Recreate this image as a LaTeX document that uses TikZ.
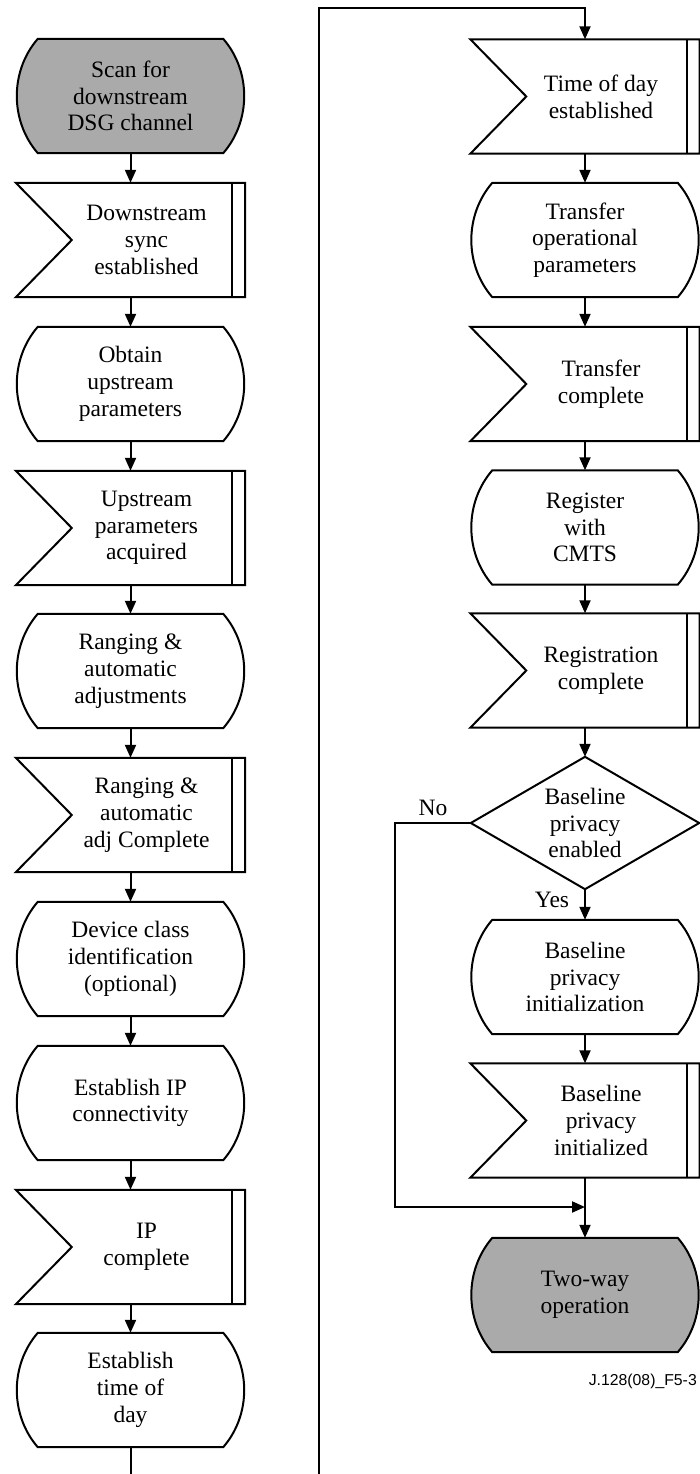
\documentclass[tikz,border=0pt]{standalone}
\usepackage{fontspec}
\setmainfont{Liberation Serif}
\newfontfamily\labfont{Liberation Sans}
\usetikzlibrary{calc,arrows.meta}
\pgfdeclarelayer{bg}
\pgfsetlayers{bg,main}
\definecolor{gr}{RGB}{170,170,170}
\tikzset{
  box/.style={rectangle, minimum width=229pt, minimum height=114pt, inner sep=0pt, align=center, font=\fontsize{23.5}{26.7}\selectfont},
  txt/.style={inner sep=0pt, align=center, font=\fontsize{23.5}{26.7}\selectfont},
  shp/.style={draw=black, line width=2pt, line join=miter},
  line/.style={draw=black, line width=2pt},
  arr/.style={line, -{Triangle[length=13pt,width=11pt]}},
}
\newcommand\stbox[4][white]{%
  \node[box] (#2) at (#3) {#4};
  \begin{pgfonlayer}{bg}
  \draw[shp, fill=#1] ($(#2.north west)+(22,0)$) -- ($(#2.north east)+(-22,0)$)
    .. controls ($(#2.east)+(6,-25)$) and ($(#2.east)+(6,25)$) .. ($(#2.south east)+(-22,0)$)
    -- ($(#2.south west)+(22,0)$)
    .. controls ($(#2.west)+(-6,25)$) and ($(#2.west)+(-6,-25)$) .. cycle;
  \end{pgfonlayer}
}
\newcommand\sgbox[3]{%
  \node[box] (#1) at (#2) {};
  \node[txt] (#1t) at ($(#1.center)+(16,0)$) {#3};
  \begin{pgfonlayer}{bg}
  \draw[shp, fill=white] (#1.north west) -- (#1.north east) -- (#1.south east) -- (#1.south west) -- ($(#1.west)+(56,0)$) -- cycle;
  \draw[shp] ($(#1.north east)+(-13,0)$) -- ($(#1.south east)+(-13,0)$);
  \end{pgfonlayer}
}
\begin{document}
\begin{tikzpicture}[x=1pt,y=-1pt]
\useasboundingbox (0,0) rectangle (699,1474);
% left column
\stbox[gr]{L1}{130.5,96}{Scan for\\downstream\\DSG channel}
\sgbox{L2}{130.5,240}{Downstream\\sync\\established}
\stbox{L3}{130.5,384}{Obtain\\upstream\\parameters}
\sgbox{L4}{130.5,528}{Upstream\\parameters\\acquired}
\stbox{L5}{130.5,671}{Ranging \&\\automatic\\adjustments}
\sgbox{L6}{130.5,815}{Ranging \&\\automatic\\adj Complete}
\stbox{L7}{130.5,959}{Device class\\identification\\(optional)}
\stbox{L8}{130.5,1103}{Establish IP\\connectivity}
\sgbox{L9}{130.5,1247}{IP\\complete}
\stbox{L10}{130.5,1390}{Establish\\time of\\day}
% right column
\sgbox{R1}{585,96.5}{Time of day\\established}
\stbox{R2}{585,240}{Transfer\\operational\\parameters}
\sgbox{R3}{585,384}{Transfer\\complete}
\stbox{R4}{585,527.5}{Register\\with\\CMTS}
\sgbox{R5}{585,670.5}{Registration\\complete}
\node[box, minimum width=228pt, minimum height=132pt] (D) at (585,823) {Baseline\\privacy\\enabled};
\begin{pgfonlayer}{bg}
\draw[shp, fill=white] (D.north) -- (D.east) -- (D.south) -- (D.west) -- cycle;
\end{pgfonlayer}
\stbox{R7}{585,977}{Baseline\\privacy\\initialization}
\sgbox{R8}{585,1120.5}{Baseline\\privacy\\initialized}
\stbox[gr]{R9}{585,1295}{Two-way\\operation}
% labels
\node[txt] (yes) at (552,900) {Yes};
\node[txt] (no) at (433,808) {No};
\node[anchor=east, inner sep=0pt, font=\labfont\fontsize{15.8}{18}\selectfont] (fig) at (697,1381) {J.128(08)\_F5-3};
% connectors left
\draw[arr] (L1.south) -- (L2.north);
\draw[arr] (L2.south) -- (L3.north);
\draw[arr] (L3.south) -- (L4.north);
\draw[arr] (L4.south) -- (L5.north);
\draw[arr] (L5.south) -- (L6.north);
\draw[arr] (L6.south) -- (L7.north);
\draw[arr] (L7.south) -- (L8.north);
\draw[arr] (L8.south) -- (L9.north);
\draw[arr] (L9.south) -- (L10.north);
\coordinate (B1) at (130.5,1474);
\draw[line] (L10.south) -- (B1);
\coordinate (B2) at (319,1474);
\coordinate (T) at (319,8);
\draw[arr] (B2) -- (T) -| (R1.north);
% connectors right
\draw[arr] (R1.south) -- (R2.north);
\draw[arr] (R2.south) -- (R3.north);
\draw[arr] (R3.south) -- (R4.north);
\draw[arr] (R4.south) -- (R5.north);
\draw[arr] (R5.south) -- (D.north);
\draw[arr] (D.south) -- (R7.north);
\draw[arr] (R7.south) -- (R8.north);
\coordinate (M) at (585,1207);
\coordinate (NoC) at (395,823);
\draw[arr] (D.west) -- (NoC) |- (M);
\draw[arr] (R8.south) -- (R9.north);
\end{tikzpicture}
\end{document}
